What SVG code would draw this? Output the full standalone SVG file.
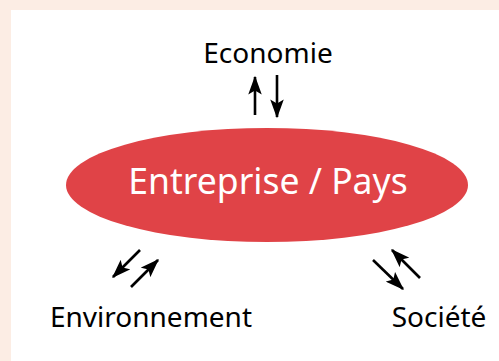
<svg xmlns="http://www.w3.org/2000/svg" width="499" height="361" viewBox="0 0 499 361">
<style>
.lbl{font-family:"Noto Sans","Open Sans","DejaVu Sans",sans-serif;font-size:28px;fill:#000}
.title{font-family:"Noto Sans","Open Sans","DejaVu Sans",sans-serif;font-size:35.5px;fill:#fff}
.arr{stroke:#000;stroke-width:2.6;fill:none;marker-end:url(#ah)}
</style>
<defs>
<marker id="ah" viewBox="0 0 14 10" refX="13" refY="5" markerWidth="7.5" markerHeight="5.2" markerUnits="strokeWidth" orient="auto">
<path d="M0,0 L14,5 L0,10 L3,5 Z" fill="#000"/>
</marker>
</defs>
<rect x="0" y="0" width="499" height="361" fill="#fcede4"/>
<rect x="11" y="10" width="488" height="351" fill="#fff"/>
<g id="center">
<ellipse cx="267" cy="185" rx="201" ry="57" fill="#e04347"/>
<text class="title" x="268" y="194" text-anchor="middle">Entreprise / Pays</text>
</g>
<g id="economie"><text class="lbl" x="268" y="63" text-anchor="middle">Economie</text></g>
<g id="environnement"><text class="lbl" x="151" y="327" text-anchor="middle">Environnement</text></g>
<g id="societe"><text class="lbl" x="439" y="327" text-anchor="middle">Société</text></g>
<g id="connectors">
<line class="arr" x1="255" y1="115" x2="255" y2="77"/>
<line class="arr" x1="277" y1="75" x2="277" y2="117"/>
<line class="arr" x1="140" y1="250" x2="113" y2="277"/>
<line class="arr" x1="131" y1="287" x2="158" y2="260"/>
<line class="arr" x1="373" y1="260" x2="403" y2="289"/>
<line class="arr" x1="420" y1="278" x2="392" y2="250"/>
</g>
</svg>
